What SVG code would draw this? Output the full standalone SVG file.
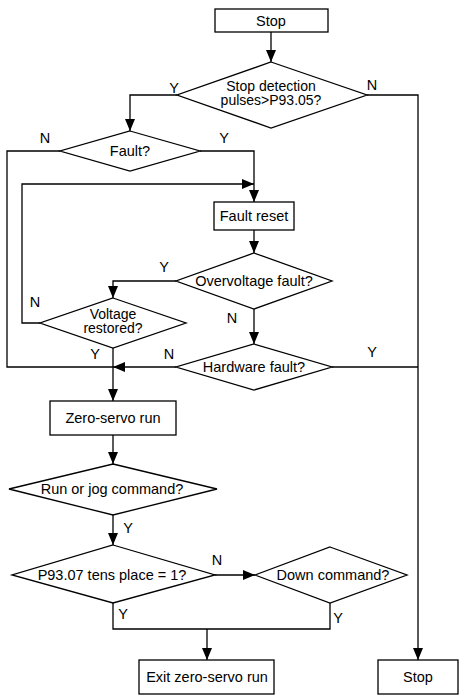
<svg xmlns="http://www.w3.org/2000/svg" width="460" height="696" viewBox="0 0 460 696">
  <style>
    .shape { fill: #fff; stroke: #000; stroke-width: 1.3; }
    .line { fill: none; stroke: #000; stroke-width: 1.3; }
    .arrow { marker-end: url(#head); }
    text { font-family: "Liberation Sans", Arial, sans-serif; font-size: 14.5px; fill: #000; }
    .c { text-anchor: middle; }
    .two { font-size: 14px; }
  </style>
  <defs>
    <marker id="head" markerUnits="userSpaceOnUse" markerWidth="12" markerHeight="10" refX="12" refY="5" orient="auto">
      <path d="M0,0 L12,5 L0,10 Z" fill="#000"/>
    </marker>
  </defs>
  <rect width="460" height="696" fill="#fff"/>

  <!-- connectors -->
  <g id="connectors">
    <path class="line arrow" d="M271,32 V62"/>
    <path class="line arrow" d="M177,95 H130 V131"/>
    <path class="line arrow" d="M367,95 H418 V660"/>
    <path class="line" d="M60,151 H7 V367 H113"/>
    <path class="line arrow" d="M200,151 H254 V202"/>
    <path class="line arrow" d="M254,230 V253"/>
    <path class="line arrow" d="M176,281 H113 V298"/>
    <path class="line arrow" d="M254,309 V344"/>
    <path class="line arrow" d="M40,323 H22 V184 H254"/>
    <path class="line arrow" d="M113,348 V401"/>
    <path class="line" d="M332,367 H418"/>
    <path class="line arrow" d="M176,367 H113"/>
    <path class="line arrow" d="M113,435 V464"/>
    <path class="line arrow" d="M113,515 V545"/>
    <path class="line arrow" d="M215,575 H255"/>
    <path class="line" d="M113,603 V629 H330 V603"/>
    <path class="line arrow" d="M207,629 V660"/>

    <text class="c" x="174" y="93">Y</text>
    <text class="c" x="372" y="90">N</text>
    <text class="c" x="45" y="143">N</text>
    <text class="c" x="224" y="143">Y</text>
    <text class="c" x="164" y="272">Y</text>
    <text class="c" x="35" y="307">N</text>
    <text class="c" x="232" y="323">N</text>
    <text class="c" x="95" y="359">Y</text>
    <text class="c" x="169" y="359">N</text>
    <text class="c" x="372" y="357">Y</text>
    <text class="c" x="128" y="533">Y</text>
    <text class="c" x="217" y="565">N</text>
    <text class="c" x="123" y="619">Y</text>
    <text class="c" x="338" y="623">Y</text>
  </g>

  <!-- nodes -->
  <g id="start-stop">
    <rect class="shape" x="215" y="9" width="113" height="23"/>
    <text class="c" x="271" y="26">Stop</text>
  </g>
  <g id="check-pulses">
    <polygon class="shape" points="271,62 367,95 271,128 177,95"/>
    <text class="c two" x="271" y="91">Stop detection</text>
    <text class="c two" x="271" y="105">pulses&gt;P93.05?</text>
  </g>
  <g id="check-fault">
    <polygon class="shape" points="130,131 200,151 130,171 60,151"/>
    <text class="c" x="130" y="156">Fault?</text>
  </g>
  <g id="fault-reset">
    <rect class="shape" x="214" y="202" width="80" height="28"/>
    <text class="c" x="254" y="221">Fault reset</text>
  </g>
  <g id="check-overvoltage">
    <polygon class="shape" points="254,253 332,281 254,309 176,281"/>
    <text class="c" x="254" y="286">Overvoltage fault?</text>
  </g>
  <g id="check-voltage">
    <polygon class="shape" points="113,298 186,323 113,348 40,323"/>
    <text class="c two" x="113" y="319">Voltage</text>
    <text class="c two" x="113" y="333">restored?</text>
  </g>
  <g id="check-hardware">
    <polygon class="shape" points="254,344 332,367 254,390 176,367"/>
    <text class="c" x="254" y="372">Hardware fault?</text>
  </g>
  <g id="zero-servo">
    <rect class="shape" x="50" y="401" width="126" height="34"/>
    <text class="c" x="113" y="423">Zero-servo run</text>
  </g>
  <g id="check-run-jog">
    <polygon class="shape" points="113,464 217,489 113,515 9,489"/>
    <text class="c" x="112" y="494">Run or jog command?</text>
  </g>
  <g id="check-p9307">
    <polygon class="shape" points="113,545 215,575 113,603 12,575"/>
    <text class="c" x="112" y="580">P93.07 tens place = 1?</text>
  </g>
  <g id="check-down">
    <polygon class="shape" points="330,547 407,575 330,603 255,575"/>
    <text class="c" x="333" y="580">Down command?</text>
  </g>
  <g id="exit-zero-servo">
    <rect class="shape" x="139" y="660" width="135" height="34"/>
    <text class="c" x="207" y="682">Exit zero-servo run</text>
  </g>
  <g id="end-stop">
    <rect class="shape" x="378" y="660" width="80" height="34"/>
    <text class="c" x="418" y="682">Stop</text>
  </g>
</svg>
